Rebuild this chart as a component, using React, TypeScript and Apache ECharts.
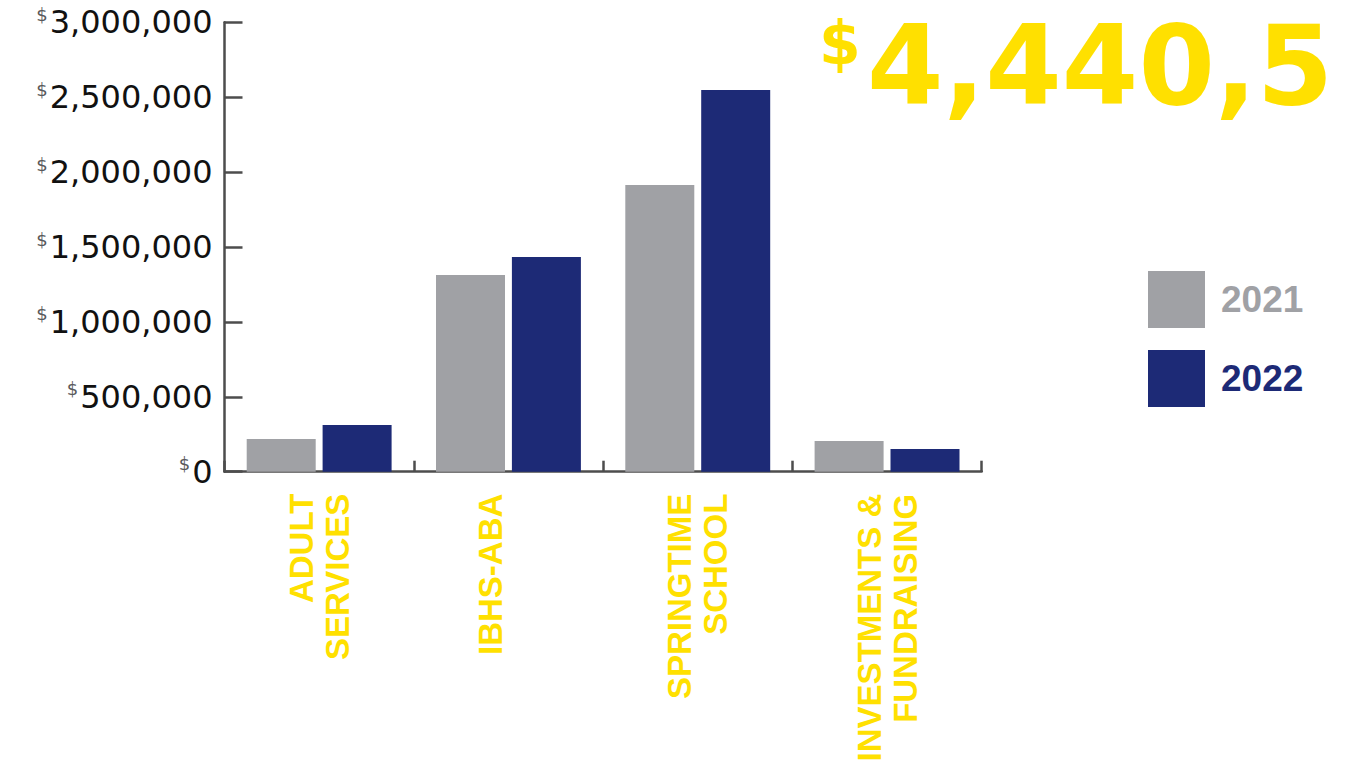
import React, { useEffect, useRef } from "react";
import * as echarts from "echarts";

const categories = ["ADULT\nSERVICES", "IBHS-ABA", "SPRINGTIME\nSCHOOL", "INVESTMENTS &\nFUNDRAISING"];
const values2021 = [218000, 1313000, 1914000, 205000];
const values2022 = [312000, 1433000, 2548000, 152000];
const seriesNames = ["2021", "2022"];
const yMin = 0;
const yMax = 3000000;
const yInterval = 500000;
const totalText = "4,440,5";

const GRAY = "#a0a1a5";
const NAVY = "#1d2a76";
const YELLOW = "#ffe000";
const AXIS = "#4d4d4d";

export default function App() {
  const ref = useRef<HTMLDivElement>(null);
  useEffect(() => {
    if (!ref.current) return;
    const chart = echarts.init(ref.current, null, { renderer: "svg" });
    chart.setOption({
      animation: false,
      backgroundColor: "#ffffff",
      grid: { left: 224.5, right: 363.3, top: 22.3, bottom: 296.3, containLabel: false },
      legend: {
        orient: "vertical",
        left: 1143,
        top: 266,
        itemWidth: 57,
        itemHeight: 57,
        itemGap: 22,
        icon: "rect",
        selectedMode: false,
        textStyle: { fontFamily: "Liberation Sans", fontWeight: "bold", fontSize: 37, padding: [0, 0, 0, 11] },
        data: [
          { name: seriesNames[0], textStyle: { color: GRAY } },
          { name: seriesNames[1], textStyle: { color: NAVY } },
        ],
      },
      xAxis: {
        type: "category",
        data: categories,
        boundaryGap: true,
        axisLine: { show: true, lineStyle: { color: AXIS, width: 2.5 } },
        axisTick: { show: true, inside: true, length: 11, alignWithLabel: false, lineStyle: { color: AXIS, width: 2.5 } },
        axisLabel: {
          interval: 0,
          rotate: 90,
          margin: 22,
          color: YELLOW,
          fontFamily: "Liberation Sans",
          fontWeight: "bold",
          fontSize: 33,
          lineHeight: 36,
          formatter: (v: string) => (v === "IBHS-ABA" ? "IBHS-ABA\n " : v),
        },
        splitLine: { show: false },
      },
      yAxis: {
        type: "value",
        min: yMin,
        max: yMax,
        interval: yInterval,
        axisLine: { show: true, lineStyle: { color: AXIS, width: 2.5 } },
        axisTick: { show: true, inside: true, length: 18, lineStyle: { color: AXIS, width: 2.5 } },
        splitLine: { show: false },
        axisLabel: {
          margin: 12,
          formatter: (v: number) => `{s|$}{v|${v.toLocaleString("en-US")}}`,
          rich: {
            s: { fontFamily: "DejaVu Sans", fontSize: 18, color: "#58595b", verticalAlign: "top", padding: [0, 2, 0, 0], lineHeight: 34 },
            v: { fontFamily: "DejaVu Sans", fontSize: 32, color: "#111111", lineHeight: 34 },
          },
        },
      },
      series: [
        {
          name: seriesNames[0],
          type: "bar",
          data: values2021,
          barWidth: 69,
          barGap: "10%",
          itemStyle: { color: GRAY },
        },
        {
          name: seriesNames[1],
          type: "bar",
          data: values2022,
          barWidth: 69,
          barGap: "10%",
          itemStyle: { color: NAVY },
        },
      ],
      graphic: [
        {
          type: "text",
          left: 819,
          top: 13,
          style: { text: "$", fontFamily: "DejaVu Sans", fontWeight: "bold", fontSize: 60, fill: YELLOW },
        },
        {
          type: "text",
          left: 867,
          top: 11,
          style: { text: totalText, fontFamily: "DejaVu Sans", fontWeight: "bold", fontSize: 110, fill: YELLOW },
        },
      ],
    });
    return () => chart.dispose();
  }, []);
  return (
    <div
      ref={ref}
      style={{ position: "fixed", left: 0, top: 0, width: 1345, height: 768, background: "#fff" }}
    />
  );
}
